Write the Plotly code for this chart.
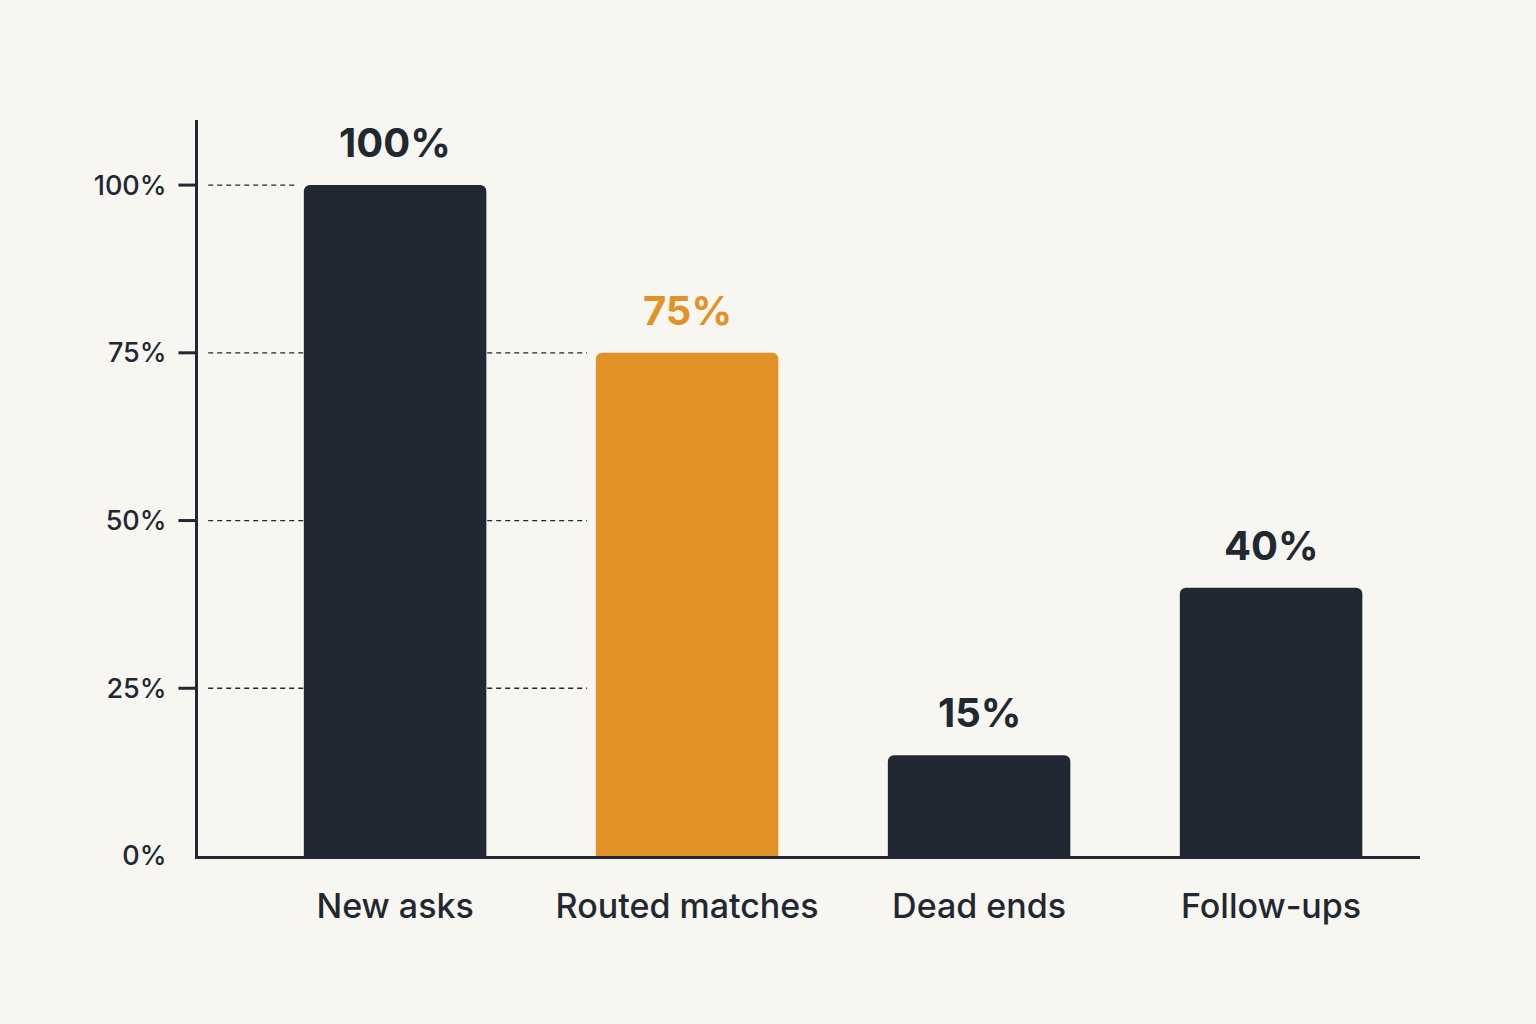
import plotly.graph_objects as go

# data
categories = ["New asks", "Routed matches", "Dead ends", "Follow-ups"]
shares = [100, 75, 15, 40]
bar_labels = ["100%", "75%", "15%", "40%"]
highlight = "Routed matches"
y_ticks = [0, 25, 50, 75, 100]
y_tick_labels = ["0%", "25%", "50%", "75%", "100%"]

DARK = "#212832"
ORANGE = "#E39227"
BG = "#F8F6F0"
FONT = "Inter, Roboto, sans-serif"
BAR_W = 0.625

colors = [ORANGE if c == highlight else DARK for c in categories]
hi = categories.index(highlight)

fig = go.Figure(go.Bar(
    x=list(range(len(categories))),
    y=shares,
    width=BAR_W,
    marker=dict(color=colors, cornerradius=6, line=dict(width=0)),
    hoverinfo="skip",
))

# value labels above each bar
for i, (v, lab, col) in enumerate(zip(shares, bar_labels, colors)):
    fig.add_annotation(
        x=i, y=v, text=f"<b>{lab}</b>", showarrow=False,
        yanchor="bottom", yshift=16,
        font=dict(size=40, color=col, family=FONT),
    )

# dashed guides: run behind the bars up to the highlighted one
for t in y_ticks[1:]:
    end = max(i for i in range(hi + 1) if shares[i] >= t)
    fig.add_shape(
        type="line", xref="x", yref="y", layer="below",
        x0=-0.64, x1=end - BAR_W / 2 - 0.03, y0=t, y1=t,
        line=dict(color=DARK, width=1.3, dash="5px,4px"),
    )
    # small tick mark left of the axis
    fig.add_shape(
        type="line", xref="paper", yref="y",
        x0=-0.016, x1=0, y0=t, y1=t,
        line=dict(color=DARK, width=3),
    )

fig.update_layout(
    width=1536, height=1024,
    paper_bgcolor=BG, plot_bgcolor=BG,
    margin=dict(l=198, r=116, t=120, b=168),
    showlegend=False,
    font=dict(family=FONT, color=DARK),
    xaxis=dict(
        range=[-0.675, 3.51],
        tickvals=list(range(len(categories))),
        ticktext=categories,
        tickfont=dict(size=34, color=DARK, weight=500),
        showline=True, linecolor=DARK, linewidth=3,
        ticks="", showgrid=False, zeroline=False,
        ticklabelstandoff=18,
    ),
    yaxis=dict(
        range=[0, 109.7],
        tickvals=y_ticks,
        ticktext=y_tick_labels,
        tickfont=dict(size=27, color=DARK, weight=500),
        showline=True, linecolor=DARK, linewidth=3,
        ticks="", showgrid=False, zeroline=False,
        ticklabelstandoff=23,
    ),
)

fig.write_html(
    "out.html",
    config={"displayModeBar": False},
    post_script=f"document.body.style.margin='0';document.body.style.background='{BG}';",
)
